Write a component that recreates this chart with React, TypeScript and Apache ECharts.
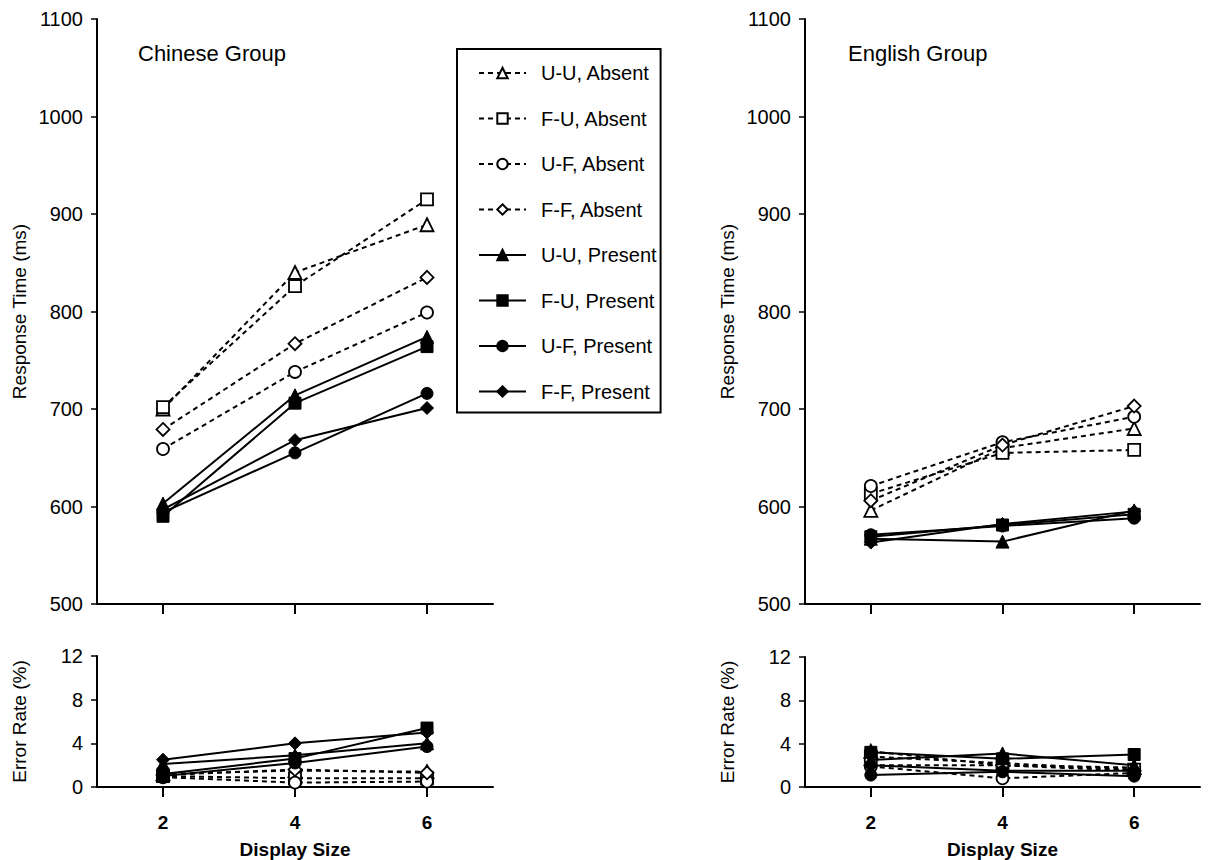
import React, { useEffect, useRef } from "react";
import * as echarts from "echarts";

// ---- Data ----
const displaySizes = [2, 4, 6];
const xTicks = [2, 4, 6];
const conditions = [
  "U-U, Absent",
  "F-U, Absent",
  "U-F, Absent",
  "F-F, Absent",
  "U-U, Present",
  "F-U, Present",
  "U-F, Present",
  "F-F, Present",
];

// Response time (ms), Chinese group
const chineseRT_UU_Absent = [700, 840, 889];
const chineseRT_FU_Absent = [702, 826, 915];
const chineseRT_UF_Absent = [659, 738, 799];
const chineseRT_FF_Absent = [679, 767, 835];
const chineseRT_UU_Present = [603, 714, 774];
const chineseRT_FU_Present = [590, 706, 764];
const chineseRT_UF_Present = [594, 655, 716];
const chineseRT_FF_Present = [597, 668, 701];

// Response time (ms), English group
const englishRT_UU_Absent = [596, 660, 680];
const englishRT_FU_Absent = [613, 655, 658];
const englishRT_UF_Absent = [621, 666, 692];
const englishRT_FF_Absent = [606, 663, 703];
const englishRT_UU_Present = [567, 564, 596];
const englishRT_FU_Present = [569, 581, 592];
const englishRT_UF_Present = [571, 580, 588];
const englishRT_FF_Present = [563, 582, 595];

// Error rate (%), Chinese group
const chineseErr_UU_Absent = [1.2, 1.5, 1.4];
const chineseErr_FU_Absent = [1.0, 0.8, 0.8];
const chineseErr_UF_Absent = [0.9, 0.4, 0.5];
const chineseErr_FF_Absent = [1.1, 1.6, 1.3];
const chineseErr_UU_Present = [2.1, 2.9, 4.0];
const chineseErr_FU_Present = [1.2, 2.6, 5.4];
const chineseErr_UF_Present = [1.0, 2.2, 3.7];
const chineseErr_FF_Present = [2.5, 4.0, 5.0];

// Error rate (%), English group
const englishErr_UU_Absent = [3.3, 2.0, 1.8];
const englishErr_FU_Absent = [2.8, 2.2, 1.6];
const englishErr_UF_Absent = [1.9, 0.8, 1.3];
const englishErr_FF_Absent = [2.0, 2.0, 1.5];
const englishErr_UU_Present = [2.5, 3.1, 2.0];
const englishErr_FU_Present = [3.2, 2.6, 3.0];
const englishErr_UF_Present = [1.1, 1.4, 1.0];
const englishErr_FF_Present = [2.0, 1.5, 1.5];

const rtTicks = { min: 500, max: 1100, interval: 100 };
const errTicks = { min: 0, max: 12, interval: 4 };

const chineseRT = [
  chineseRT_UU_Absent, chineseRT_FU_Absent, chineseRT_UF_Absent, chineseRT_FF_Absent,
  chineseRT_UU_Present, chineseRT_FU_Present, chineseRT_UF_Present, chineseRT_FF_Present,
];
const englishRT = [
  englishRT_UU_Absent, englishRT_FU_Absent, englishRT_UF_Absent, englishRT_FF_Absent,
  englishRT_UU_Present, englishRT_FU_Present, englishRT_UF_Present, englishRT_FF_Present,
];
const chineseErr = [
  chineseErr_UU_Absent, chineseErr_FU_Absent, chineseErr_UF_Absent, chineseErr_FF_Absent,
  chineseErr_UU_Present, chineseErr_FU_Present, chineseErr_UF_Present, chineseErr_FF_Present,
];
const englishErr = [
  englishErr_UU_Absent, englishErr_FU_Absent, englishErr_UF_Absent, englishErr_FF_Absent,
  englishErr_UU_Present, englishErr_FU_Present, englishErr_UF_Present, englishErr_FF_Present,
];

const symbols = ["triangle", "rect", "circle", "diamond", "triangle", "rect", "circle", "diamond"];

const FONT = "'Liberation Sans', Arial, Helvetica, sans-serif";
const INK = "#000";

export default function App() {
  const ref = useRef<HTMLDivElement>(null);

  useEffect(() => {
    if (!ref.current) return;
    const chart = echarts.init(ref.current, null, { renderer: "svg" });

    const grids = [
      { left: 97, top: 19, width: 396, height: 585 },
      { left: 97, top: 656, width: 396, height: 131 },
      { left: 805, top: 19, width: 395, height: 585 },
      { left: 805, top: 657, width: 395, height: 130 },
    ];

    const makeX = (gridIndex: number, showLabels: boolean) => ({
      type: "value",
      gridIndex,
      min: 1,
      max: 7,
      splitLine: { show: false },
      axisLine: { lineStyle: { color: INK, width: 2 } },
      axisTick: {
        show: true,
        customValues: xTicks,
        length: 10,
        lineStyle: { color: INK, width: 2 },
      },
      axisLabel: {
        show: showLabels,
        customValues: xTicks,
        margin: 26,
        color: INK,
        fontFamily: FONT,
        fontSize: 19,
        fontWeight: "bold",
      },
      name: showLabels ? "Display Size" : "",
      nameLocation: "middle",
      nameGap: 53,
      nameTextStyle: { color: INK, fontFamily: FONT, fontSize: 19, fontWeight: "bold" },
    });

    const makeY = (gridIndex: number, t: { min: number; max: number; interval: number }, name: string) => ({
      type: "value",
      gridIndex,
      min: t.min,
      max: t.max,
      interval: t.interval,
      splitLine: { show: false },
      axisLine: { show: true, lineStyle: { color: INK, width: 2 } },
      axisTick: { show: true, length: 6, lineStyle: { color: INK, width: 1.5 } },
      axisLabel: {
        margin: 14,
        color: INK,
        fontFamily: FONT,
        fontSize: 20,
        formatter: (v: number) => String(v),
      },
      name,
      nameLocation: "middle",
      nameGap: 68,
      nameTextStyle: { color: INK, fontFamily: FONT, fontSize: 19 },
    });

    const series: any[] = [];
    const panels = [
      { data: chineseRT, axis: 0 },
      { data: chineseErr, axis: 1 },
      { data: englishRT, axis: 2 },
      { data: englishErr, axis: 3 },
    ];
    panels.forEach((p) => {
      conditions.forEach((name, i) => {
        const absent = i < 4;
        const sym = symbols[i];
        series.push({
          type: "line",
          name,
          xAxisIndex: p.axis,
          yAxisIndex: p.axis,
          data: displaySizes.map((x, k) => [x, p.data[i][k]]),
          symbol: sym,
          symbolSize: sym === "triangle" ? 13 : sym === "diamond" ? 13 : 12,
          lineStyle: {
            color: INK,
            width: 2,
            type: absent ? [5, 4] : "solid",
          },
          itemStyle: absent
            ? { color: "#fff", borderColor: INK, borderWidth: 1.8 }
            : { color: INK, borderColor: INK, borderWidth: 1 },
          z: absent ? 3 : 4,
        });
      });
    });

    chart.setOption({
      animation: false,
      backgroundColor: "#fff",
      title: [
        {
          text: "Chinese Group",
          left: 133,
          top: 37,
          textStyle: { color: INK, fontFamily: FONT, fontSize: 22, fontWeight: "normal" },
        },
        {
          text: "English Group",
          left: 843,
          top: 37,
          textStyle: { color: INK, fontFamily: FONT, fontSize: 22, fontWeight: "normal" },
        },
      ],
      legend: {
        data: conditions,
        orient: "vertical",
        left: 457,
        top: 49,
        padding: [14, 4, 11, 21],
        itemGap: 25.5,
        itemWidth: 47,
        itemHeight: 13,
        borderColor: INK,
        borderWidth: 2,
        backgroundColor: "#fff",
        textStyle: {
          color: INK,
          fontFamily: FONT,
          fontSize: 20,
          lineHeight: 20,
          padding: [0, 0, 0, 10],
        },
        selectedMode: false,
      },
      grid: grids,
      xAxis: [makeX(0, false), makeX(1, true), makeX(2, false), makeX(3, true)],
      yAxis: [
        makeY(0, rtTicks, "Response Time (ms)"),
        makeY(1, errTicks, "Error Rate (%)"),
        makeY(2, rtTicks, "Response Time (ms)"),
        makeY(3, errTicks, "Error Rate (%)"),
      ],
      series,
    });

    return () => chart.dispose();
  }, []);

  return (
    <div
      ref={ref}
      style={{ position: "fixed", left: 0, top: 0, width: 1208, height: 860, background: "#fff" }}
    />
  );
}
